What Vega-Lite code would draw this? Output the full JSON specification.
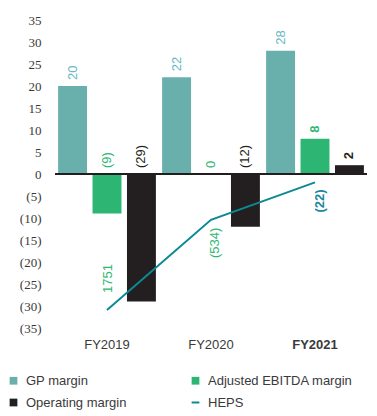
{
  "$schema": "https://vega.github.io/schema/vega-lite/v6.json",
  "width": 312,
  "height": 308,
  "autosize": {"type": "none"},
  "padding": {"left": 55, "top": 20, "right": 10, "bottom": 88},
  "background": "white",
  "config": {
    "view": {"stroke": null},
    "font": "Liberation Sans",
    "axis": {"grid": false, "ticks": false, "domain": false}
  },
  "data": {
    "values": [
      {"year": "FY2019", "series": "GP margin", "value": 20, "label": "20"},
      {"year": "FY2019", "series": "Adjusted EBITDA margin", "value": -9, "label": "(9)"},
      {"year": "FY2019", "series": "Operating margin", "value": -29, "label": "(29)"},
      {"year": "FY2020", "series": "GP margin", "value": 22, "label": "22"},
      {"year": "FY2020", "series": "Adjusted EBITDA margin", "value": 0, "label": "0"},
      {"year": "FY2020", "series": "Operating margin", "value": -12, "label": "(12)"},
      {"year": "FY2021", "series": "GP margin", "value": 28, "label": "28"},
      {"year": "FY2021", "series": "Adjusted EBITDA margin", "value": 8, "label": "8"},
      {"year": "FY2021", "series": "Operating margin", "value": 2, "label": "2"},
      {"year": "FY2019", "series": "HEPS", "value": -30.9, "label": "1751"},
      {"year": "FY2020", "series": "HEPS", "value": -10.4, "label": "(534)"},
      {"year": "FY2021", "series": "HEPS", "value": -1.9, "label": "(22)"}
    ]
  },
  "encoding": {
    "x": {
      "field": "year",
      "type": "nominal",
      "sort": ["FY2019", "FY2020", "FY2021"],
      "scale": {"paddingInner": 0, "paddingOuter": 0},
      "axis": {
        "title": null,
        "labelAngle": 0,
        "labelFontSize": 13,
        "labelColor": "#3a3a3a",
        "labelPadding": 10,
        "labelFontWeight": {"condition": {"test": "datum.value == 'FY2021'", "value": "bold"}, "value": "normal"}
      }
    },
    "y": {
      "field": "value",
      "type": "quantitative",
      "scale": {"domain": [-35, 35], "nice": false, "zero": false},
      "axis": {
        "title": null,
        "values": [-35, -30, -25, -20, -15, -10, -5, 0, 5, 10, 15, 20, 25, 30, 35],
        "labelExpr": "datum.value < 0 ? '(' + abs(datum.value) + ')' : datum.value",
        "labelFont": "Liberation Sans Narrow",
        "labelFontSize": 13,
        "labelColor": "#3a3a3a",
        "labelPadding": 14
      }
    }
  },
  "layer": [
    {
      "transform": [{"filter": "datum.series != 'HEPS'"}],
      "mark": {"type": "bar"},
      "encoding": {
        "xOffset": {
          "field": "series",
          "type": "nominal",
          "sort": ["GP margin", "Adjusted EBITDA margin", "Operating margin"],
          "scale": {"paddingInner": 0.16, "paddingOuter": 0.09}
        },
        "color": {
          "field": "series",
          "type": "nominal",
          "scale": {
            "domain": ["GP margin", "Adjusted EBITDA margin", "Operating margin", "HEPS"],
            "range": ["#69b0ad", "#2db673", "#231f20", "#0b8a93"]
          },
          "legend": {
            "title": null,
            "orient": "none",
            "direction": "horizontal",
            "legendX": -48,
            "legendY": 354,
            "columns": 2,
            "columnPadding": 60,
            "rowPadding": 8,
            "labelFontSize": 13,
            "labelColor": "#3a3a3a",
            "labelOffset": 6,
            "symbolSize": 60,
            "encode": {
              "symbols": {
                "update": {
                  "shape": {"signal": "datum.value == 'HEPS' ? 'stroke' : 'square'"},
                  "strokeWidth": {"signal": "datum.value == 'HEPS' ? 2 : 0"},
                  "stroke": {"scale": "color", "field": "value"},
                  "fill": {"scale": "color", "field": "value"}
                }
              }
            }
          }
        }
      }
    },
    {
      "mark": {"type": "rule", "color": "#231f20", "strokeWidth": 1},
      "encoding": {"y": {"datum": 0}, "x": {"value": 0}, "x2": {"value": 312}}
    },
    {
      "transform": [
        {"filter": "datum.series != 'HEPS' && !(datum.year == 'FY2021' && datum.series != 'GP margin')"},
        {"calculate": "max(datum.value, 0)", "as": "labelPos"}
      ],
      "mark": {"type": "text", "angle": 270, "align": "left", "baseline": "middle", "dx": 6, "fontSize": 13},
      "encoding": {
        "xOffset": {"field": "series", "type": "nominal", "sort": ["GP margin", "Adjusted EBITDA margin", "Operating margin"], "scale": {"paddingInner": 0.16, "paddingOuter": 0.09}},
        "y": {"field": "labelPos", "type": "quantitative"},
        "text": {"field": "label"},
        "fill": {"field": "series", "type": "nominal", "scale": {"domain": ["GP margin", "Adjusted EBITDA margin", "Operating margin"], "range": ["#6ab8c6", "#2db673", "#231f20"]}, "legend": null}
      }
    },
    {
      "transform": [
        {"filter": "datum.series != 'HEPS' && datum.year == 'FY2021' && datum.series != 'GP margin'"},
        {"calculate": "max(datum.value, 0)", "as": "labelPos"}
      ],
      "mark": {"type": "text", "angle": 270, "align": "left", "baseline": "middle", "dx": 6, "fontSize": 13, "fontWeight": "bold"},
      "encoding": {
        "xOffset": {"field": "series", "type": "nominal", "sort": ["GP margin", "Adjusted EBITDA margin", "Operating margin"], "scale": {"paddingInner": 0.16, "paddingOuter": 0.09}},
        "y": {"field": "labelPos", "type": "quantitative"},
        "text": {"field": "label"},
        "fill": {"field": "series", "type": "nominal", "legend": null}
      }
    },
    {
      "transform": [{"filter": "datum.series == 'HEPS'"}],
      "mark": {"type": "line", "strokeWidth": 2},
      "encoding": {
        "color": {"field": "series", "type": "nominal"}
      }
    },
    {
      "transform": [{"filter": "datum.series == 'HEPS' && datum.year == 'FY2019'"}],
      "mark": {"type": "text", "angle": 270, "align": "left", "baseline": "middle", "dx": 17, "dy": 1, "fontSize": 13, "color": "#2db673"},
      "encoding": {"text": {"field": "label"}}
    },
    {
      "transform": [{"filter": "datum.series == 'HEPS' && datum.year == 'FY2020'"}],
      "mark": {"type": "text", "angle": 270, "align": "right", "baseline": "middle", "dx": -8, "dy": 4, "fontSize": 13, "color": "#2db673"},
      "encoding": {"text": {"field": "label"}}
    },
    {
      "transform": [{"filter": "datum.series == 'HEPS' && datum.year == 'FY2021'"}],
      "mark": {"type": "text", "angle": 270, "align": "right", "baseline": "middle", "dx": -7, "dy": 5, "fontSize": 13, "fontWeight": "bold", "color": "#1b86a0"},
      "encoding": {"text": {"field": "label"}}
    }
  ]
}
